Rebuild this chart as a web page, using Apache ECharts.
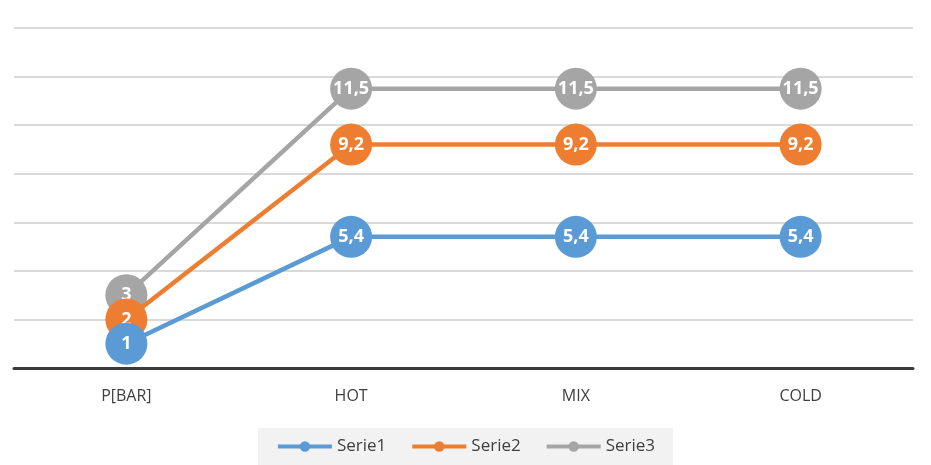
<!DOCTYPE html>
<html>
<head>
<meta charset="utf-8">
<script src="https://cdn.jsdelivr.net/npm/echarts@6/dist/echarts.min.js"></script>
<style>
html, body { margin: 0; padding: 0; background: #fff; }
#main { width: 931px; height: 465px; }
</style>
</head>
<body>
<div id="main"></div>
<script>
var categories = ['P[BAR]', 'HOT', 'MIX', 'COLD'];
var serie1 = [1, 5.4, 5.4, 5.4];
var serie2 = [2, 9.2, 9.2, 9.2];
var serie3 = [3, 11.5, 11.5, 11.5];
var seriesNames = ['Serie1', 'Serie2', 'Serie3'];
var colors = ['#5b9bd5', '#ed7d31', '#a5a5a5'];

function fmt(p) {
    return String(p.value).replace('.', ',');
}

function makeSeries(name, data, color, z) {
    return {
        name: name,
        type: 'line',
        data: data,
        z: z,
        symbol: 'circle',
        symbolSize: 42,
        color: color,
        lineStyle: { width: 4.5, color: color },
        itemStyle: { color: color },
        label: {
            show: true,
            position: 'inside',
            color: '#fff',
            fontWeight: 'bold',
            fontSize: 18,
            fontFamily: 'Open Sans',
            formatter: fmt
        },
        emphasis: { disabled: true },
        animation: false
    };
}

var myChart = echarts.init(document.getElementById('main'));
var option = {
    backgroundColor: '#fff',
    grid: { left: 14, right: 18, top: 28, bottom: 97, containLabel: false },
    legend: {
        bottom: 0,
        left: 'center',
        data: seriesNames,
        backgroundColor: '#f2f2f2',
        padding: [10, 18, 10, 18],
        itemWidth: 54,
        itemHeight: 13,
        itemGap: 24,
        lineStyle: { width: 4 },
        textStyle: { color: '#404040', fontSize: 17, fontFamily: 'Open Sans' }
    },
    xAxis: {
        type: 'category',
        data: categories,
        boundaryGap: true,
        axisLine: { lineStyle: { color: '#3a3a3a', width: 3 } },
        axisTick: { show: false },
        axisLabel: { color: '#404040', fontSize: 16, fontFamily: 'Open Sans', margin: 20 }
    },
    yAxis: {
        type: 'value',
        min: 0,
        max: 14,
        interval: 2,
        axisLabel: { show: false },
        axisLine: { show: false },
        axisTick: { show: false },
        splitLine: { lineStyle: { color: '#d9d9d9', width: 2 } }
    },
    series: [
        makeSeries(seriesNames[0], serie1, colors[0], 4),
        makeSeries(seriesNames[1], serie2, colors[1], 3),
        makeSeries(seriesNames[2], serie3, colors[2], 2)
    ]
};
myChart.setOption(option);
</script>
</body>
</html>
